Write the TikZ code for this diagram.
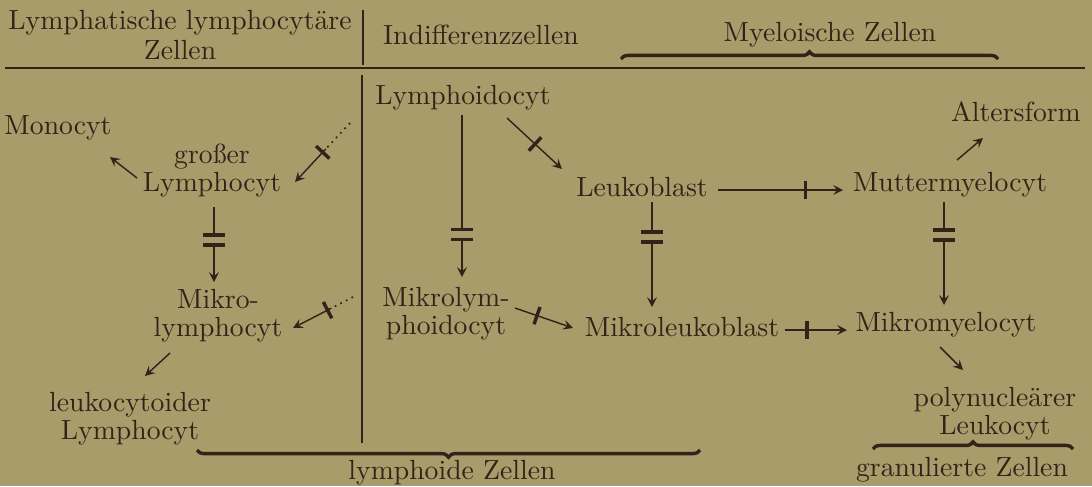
\documentclass[tikz,border=0pt]{standalone}
\usetikzlibrary{arrows.meta,decorations.pathreplacing,decorations.markings,calc}
\definecolor{bg}{RGB}{168,156,106}
\definecolor{ink}{RGB}{48,36,26}
\begin{document}
\begin{tikzpicture}[x=0.35pt,y=-0.35pt,
  lbl/.style={text=ink,inner sep=0pt,align=center,font=\fontsize{9.7}{9.8}\selectfont},
  hdr/.style={lbl,font=\fontsize{9.7}{10.5}\selectfont},
  rule/.style={draw=ink,line width=0.55pt},
  conn/.style={draw=ink,line width=0.5pt},
  arr/.style={conn,-{Stealth[length=3.4pt,width=3.4pt,inset=1.3pt]}},
  dots/.style={draw=ink,line width=0.6pt,dash pattern=on 0.6pt off 1.6pt},
  sbar/.style={postaction={decorate,decoration={markings,mark=at position #1 with {\draw[-,solid,ink,line width=1.2pt] (0pt,-3.2pt) -- (0pt,3.2pt);}}}},
  dbar/.style={postaction={decorate,decoration={markings,mark=at position #1 with {\fill[bg] (-1.3pt,-2pt) rectangle (1.3pt,2pt); \draw[-,solid,ink,line width=1.1pt] (-1.75pt,-3.7pt) -- (-1.75pt,3.7pt); \draw[-,solid,ink,line width=1.1pt] (1.75pt,-3.7pt) -- (1.75pt,3.7pt);}}}},
  brc/.style={draw=ink,line width=1.2pt,decorate,decoration={brace,amplitude=2.5pt}},
]
\fill[bg] (0,0) rectangle (1092,486);
\useasboundingbox (0,0) rectangle (1092,486);

% header
\node[hdr] (h1) at (180,35) {Lymphatische lymphocytäre\\Zellen};
\node[lbl] (h2) at (481,35) {Indifferenzzellen};
\node[lbl] (h3) at (830,35) {Myeloische Zellen};
\coordinate (v1a) at (363,10); \coordinate (v1b) at (363,65);
\coordinate (ha) at (5,68); \coordinate (hb) at (1085,68);
\coordinate (v2a) at (362,75); \coordinate (v2b) at (362,443);
\draw[rule] (v1a) -- (v1b);
\draw[rule] (ha) -- (hb);
\draw[rule] (v2a) -- (v2b);
\coordinate (b1a) at (621,59); \coordinate (b1b) at (998,59);
\draw[brc] (b1a) -- (b1b);

% left column
\node[lbl] (mono) at (58,128) {Monocyt};
\node[lbl] (gl) at (212,171) {großer\\Lymphocyt};
\node[lbl] (ml) at (218,316) {Mikro-\\lymphocyt};
\node[lbl] (lk) at (130,419) {leukocytoider\\Lymphocyt};

\draw[arr] ([shift={(-75,7)}]gl.center) -- ([shift={(52,29)}]mono.center);
\coordinate (d1) at (350,123);
\coordinate (t1) at ([shift={(83,11)}]gl.center);
\draw[dots] (d1) -- ($(d1)!0.44!(t1)$);
\draw[arr,sbar=0.1] ($(d1)!0.44!(t1)$) -- (t1);
\draw[arr,dbar=0.44] ([shift={(2,36)}]gl.center) -- ([shift={(-4,-34)}]ml.center);
\coordinate (d2) at (353,297);
\coordinate (t2) at ([shift={(75,12)}]ml.center);
\draw[dots] (d2) -- ($(d2)!0.36!(t2)$);
\draw[arr,sbar=0.1] ($(d2)!0.36!(t2)$) -- (t2);
\draw[arr] ([shift={(-48,37)}]ml.center) -- ([shift={(15,-43)}]lk.center);

\coordinate (b2a) at (700,450); \coordinate (b2b) at (197,450);
\draw[brc] (b2a) -- (b2b);
\node[lbl] (lz) at (452,473) {lymphoide Zellen};

% middle column
\node[lbl] (lo) at (463,98) {Lymphoidocyt};
\node[lbl] (mlo) at (446,314) {Mikrolym-\\phoidocyt};
\node[lbl] (lb) at (642,187) {Leukoblast};
\node[lbl] (mlb) at (682,327) {Mikroleukoblast};

\draw[arr,dbar=0.735] ([shift={(-1,17)}]lo.center) -- ([shift={(16,-37)}]mlo.center);
\draw[arr,sbar=0.51] ([shift={(44,20)}]lo.center) -- ([shift={(-80,-18)}]lb.center);
\draw[arr,dbar=0.333] ([shift={(10,15)}]lb.center) -- ([shift={(-30,-20)}]mlb.center);
\draw[arr,sbar=0.38] ([shift={(69,-6)}]mlo.center) -- ([shift={(-109,1)}]mlb.center);

% right column
\node[lbl] (alt) at (1016,112) {Altersform};
\node[lbl] (mm) at (950,185) {Muttermyelocyt};
\node[lbl] (mmy) at (946,325) {Mikromyelocyt};
\node[lbl] (pl) at (995,414) {polynucleärer\\Leukocyt};
\node[lbl] (gz) at (962,470) {granulierte Zellen};

\draw[arr,sbar=0.70] ([shift={(76,3)}]lb.center) -- ([shift={(-107,5)}]mm.center);
\draw[arr] ([shift={(7,-25)}]mm.center) -- ([shift={(-33,26)}]alt.center);
\draw[arr,dbar=0.32] ([shift={(-6,17)}]mm.center) -- ([shift={(-2,-20)}]mmy.center);
\draw[arr,sbar=0.355] ([shift={(103,3)}]mlb.center) -- ([shift={(-99,5)}]mmy.center);
\draw[arr] ([shift={(-6,22)}]mmy.center) -- ([shift={(-32,-44)}]pl.center);
\coordinate (b3a) at (873,449); \coordinate (b3b) at (1073,449);
\draw[brc] (b3a) -- (b3b);
\end{tikzpicture}
\end{document}
